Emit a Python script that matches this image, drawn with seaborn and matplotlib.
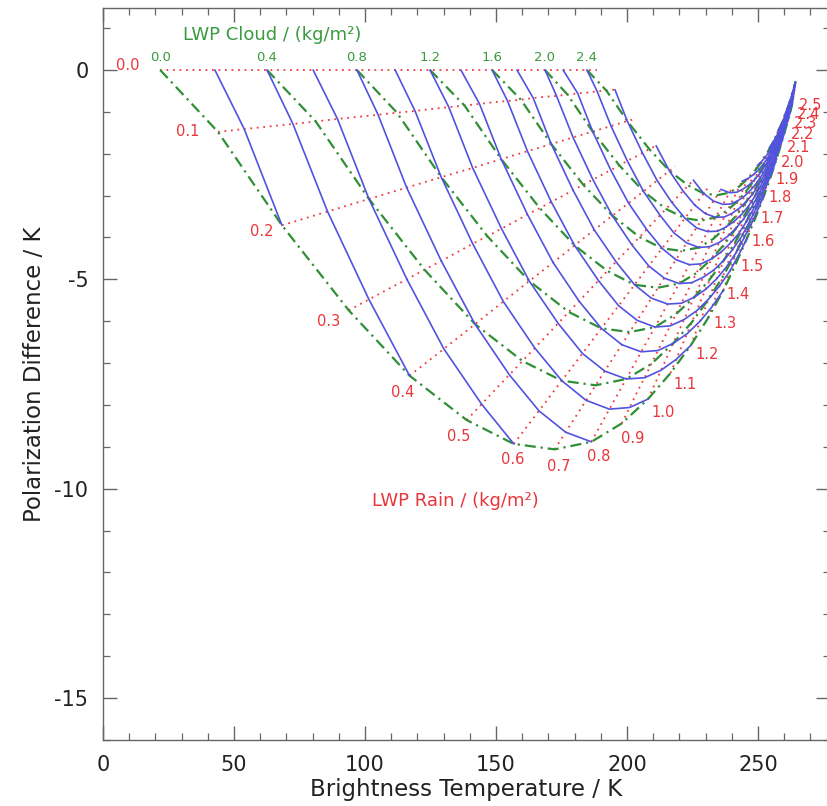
import matplotlib
matplotlib.use("Agg")
import matplotlib.pyplot as plt
import seaborn as sns
import pandas as pd

sns.set_theme(style="white")
plt.rcParams['font.family'] = ['DejaVu Sans']
plt.rcParams['axes.unicode_minus'] = False

# ---------------- data ----------------
cloud_lwp = [0.0, 0.2, 0.4, 0.6, 0.8, 1.0, 1.2, 1.4, 1.6, 1.8, 2.0, 2.2, 2.4, 2.5]
rain_lwp = [0.0, 0.1, 0.2, 0.3, 0.4, 0.5, 0.6, 0.7, 0.8, 0.9, 1.0, 1.1, 1.2,
            1.3, 1.4, 1.5, 1.6, 1.7, 1.8, 1.9, 2.0, 2.1, 2.2, 2.3, 2.4, 2.5]
cloud_labels = ["0.0", "0.4", "0.8", "1.2", "1.6", "2.0", "2.4"]

# brightness temperature [rain row][cloud column]
tb = [
    [21.8, 42.7, 62.6, 80.2, 96.9, 111.5, 124.8, 136.6, 148.5, 158.0, 168.7, 175.6, 184.7, 188.4],
    [43.9, 63.4, 81.2, 97.4, 112.2, 125.7, 138.0, 149.2, 159.5, 168.8, 177.3, 185.0, 192.1, 195.4],
    [68.3, 85.7, 101.5, 115.9, 129.1, 141.1, 152.0, 162.0, 171.1, 179.4, 186.9, 193.9, 200.1, 203.1],
    [93.8, 108.9, 122.7, 135.3, 146.7, 157.2, 166.7, 175.4, 183.3, 190.5, 197.1, 203.1, 208.5, 211.1],
    [117.0, 130.1, 142.0, 152.8, 162.7, 171.8, 180.0, 187.5, 194.4, 200.6, 206.3, 211.5, 216.2, 218.4],
    [138.8, 149.9, 160.1, 169.4, 177.8, 185.5, 192.5, 198.9, 204.8, 210.1, 214.9, 219.4, 223.4, 225.3],
    [156.8, 166.4, 175.1, 183.0, 190.2, 196.8, 202.9, 208.3, 213.4, 217.9, 222.1, 225.9, 229.3, 230.9],
    [172.4, 180.6, 188.0, 194.8, 201.0, 206.7, 211.8, 216.5, 220.8, 224.7, 228.3, 231.5, 234.5, 235.8],
    [186.4, 193.3, 199.7, 205.4, 210.7, 215.5, 219.9, 223.8, 227.5, 230.8, 233.8, 236.6, 239.1, 240.2],
    [198.0, 203.9, 209.3, 214.2, 218.7, 222.8, 226.5, 229.9, 233.0, 235.8, 238.4, 240.8, 242.9, 243.9],
    [208.0, 213.0, 217.6, 221.8, 225.6, 229.1, 232.3, 235.2, 237.8, 240.2, 242.4, 244.4, 246.2, 247.1],
    [216.6, 220.9, 224.8, 228.3, 231.6, 234.5, 237.2, 239.7, 241.9, 243.9, 245.8, 247.5, 249.0, 249.8],
    [224.3, 227.9, 231.2, 234.2, 236.9, 239.4, 241.6, 243.7, 245.6, 247.3, 248.8, 250.3, 251.6, 252.2],
    [231.0, 234.0, 236.7, 239.2, 241.5, 243.6, 245.5, 247.2, 248.8, 250.2, 251.5, 252.7, 253.8, 254.3],
    [236.8, 239.3, 241.6, 243.6, 245.5, 247.2, 248.8, 250.2, 251.5, 252.7, 253.8, 254.8, 255.7, 256.1],
    [241.6, 243.7, 245.5, 247.3, 248.8, 250.3, 251.6, 252.7, 253.8, 254.8, 255.7, 256.5, 257.3, 257.6],
    [245.8, 247.5, 249.0, 250.5, 251.7, 252.9, 254.0, 254.9, 255.8, 256.6, 257.4, 258.1, 258.7, 259.0],
    [249.4, 250.8, 252.0, 253.2, 254.2, 255.2, 256.0, 256.8, 257.6, 258.2, 258.8, 259.4, 259.9, 260.1],
    [252.4, 253.5, 254.5, 255.5, 256.3, 257.1, 257.8, 258.4, 259.0, 259.5, 260.0, 260.4, 260.8, 261.0],
    [254.9, 255.8, 256.6, 257.3, 258.0, 258.6, 259.2, 259.7, 260.2, 260.6, 261.0, 261.3, 261.7, 261.8],
    [257.0, 257.7, 258.4, 258.9, 259.5, 260.0, 260.4, 260.8, 261.2, 261.5, 261.8, 262.1, 262.4, 262.5],
    [258.7, 259.3, 259.8, 260.2, 260.6, 261.0, 261.4, 261.7, 262.0, 262.3, 262.5, 262.7, 262.9, 263.0],
    [260.1, 260.5, 260.9, 261.3, 261.6, 261.9, 262.2, 262.4, 262.7, 262.9, 263.1, 263.2, 263.4, 263.5],
    [261.3, 261.6, 261.9, 262.2, 262.4, 262.7, 262.9, 263.1, 263.2, 263.4, 263.5, 263.7, 263.8, 263.8],
    [262.3, 262.5, 262.8, 263.0, 263.1, 263.3, 263.4, 263.6, 263.7, 263.8, 263.9, 264.0, 264.1, 264.2],
    [263.1, 263.3, 263.4, 263.6, 263.7, 263.8, 263.9, 264.0, 264.1, 264.2, 264.2, 264.3, 264.4, 264.4],
]

# polarization difference [rain row][cloud column]
pdiff = [
    [0.0] * 14,
    [-1.48, -1.35, -1.23, -1.12, -1.02, -0.93, -0.85, -0.77, -0.71, -0.64, -0.59, -0.54, -0.49, -0.47],
    [-3.71, -3.38, -3.08, -2.81, -2.56, -2.34, -2.13, -1.94, -1.77, -1.61, -1.47, -1.34, -1.22, -1.17],
    [-5.74, -5.23, -4.77, -4.35, -3.97, -3.62, -3.30, -3.01, -2.74, -2.50, -2.28, -2.08, -1.89, -1.81],
    [-7.30, -6.66, -6.07, -5.53, -5.04, -4.60, -4.19, -3.82, -3.48, -3.18, -2.90, -2.64, -2.41, -2.30],
    [-8.36, -7.62, -6.95, -6.34, -5.78, -5.27, -4.80, -4.38, -3.99, -3.64, -3.32, -3.02, -2.76, -2.63],
    [-8.93, -8.14, -7.42, -6.77, -6.17, -5.63, -5.13, -4.68, -4.26, -3.89, -3.54, -3.23, -2.95, -2.81],
    [-9.06, -8.26, -7.53, -6.87, -6.26, -5.71, -5.20, -4.74, -4.32, -3.94, -3.60, -3.28, -2.99, -2.85],
    [-8.88, -8.10, -7.38, -6.73, -6.14, -5.59, -5.10, -4.65, -4.24, -3.86, -3.52, -3.21, -2.93, -2.80],
    [-8.44, -7.69, -7.02, -6.40, -5.83, -5.32, -4.85, -4.42, -4.03, -3.67, -3.35, -3.05, -2.78, -2.66],
    [-7.86, -7.17, -6.53, -5.96, -5.43, -4.95, -4.51, -4.12, -3.75, -3.42, -3.12, -2.84, -2.59, -2.48],
    [-7.24, -6.60, -6.02, -5.49, -5.00, -4.56, -4.16, -3.79, -3.46, -3.15, -2.87, -2.62, -2.39, -2.28],
    [-6.58, -6.00, -5.47, -4.99, -4.55, -4.14, -3.78, -3.45, -3.14, -2.86, -2.61, -2.38, -2.17, -2.07],
    [-5.92, -5.40, -4.92, -4.49, -4.09, -3.73, -3.40, -3.10, -2.83, -2.58, -2.35, -2.14, -1.95, -1.86],
    [-5.26, -4.80, -4.37, -3.99, -3.63, -3.31, -3.02, -2.75, -2.51, -2.29, -2.09, -1.90, -1.73, -1.66],
    [-4.62, -4.21, -3.84, -3.50, -3.19, -2.91, -2.65, -2.42, -2.21, -2.01, -1.83, -1.67, -1.52, -1.45],
    [-4.02, -3.67, -3.34, -3.05, -2.78, -2.53, -2.31, -2.10, -1.92, -1.75, -1.60, -1.45, -1.33, -1.27],
    [-3.47, -3.16, -2.88, -2.63, -2.40, -2.19, -1.99, -1.82, -1.66, -1.51, -1.38, -1.26, -1.14, -1.09],
    [-2.98, -2.72, -2.48, -2.26, -2.06, -1.88, -1.71, -1.56, -1.42, -1.30, -1.18, -1.08, -0.98, -0.94],
    [-2.54, -2.32, -2.11, -1.92, -1.75, -1.60, -1.46, -1.33, -1.21, -1.11, -1.01, -0.92, -0.84, -0.80],
    [-2.14, -1.95, -1.78, -1.62, -1.48, -1.35, -1.23, -1.12, -1.02, -0.93, -0.85, -0.77, -0.71, -0.67],
    [-1.80, -1.64, -1.50, -1.36, -1.24, -1.13, -1.03, -0.94, -0.86, -0.78, -0.71, -0.65, -0.59, -0.57],
    [-1.50, -1.37, -1.25, -1.14, -1.04, -0.94, -0.86, -0.79, -0.72, -0.65, -0.60, -0.54, -0.49, -0.47],
    [-1.24, -1.13, -1.03, -0.94, -0.86, -0.78, -0.71, -0.65, -0.59, -0.54, -0.49, -0.45, -0.41, -0.39],
    [-1.01, -0.92, -0.84, -0.77, -0.70, -0.64, -0.58, -0.53, -0.48, -0.44, -0.40, -0.37, -0.33, -0.32],
    [-0.81, -0.74, -0.67, -0.61, -0.56, -0.51, -0.47, -0.42, -0.39, -0.35, -0.32, -0.29, -0.27, -0.26],
]

# intermediate grid nodes: odd-tenth cloud and odd-tenth rain
cloud_lwp_mid = [0.1, 0.3, 0.5, 0.7, 0.9, 1.1, 1.3, 1.5, 1.7, 1.9, 2.1, 2.3]
rain_lwp_mid = [0.1, 0.3, 0.5, 0.7, 0.9, 1.1, 1.3, 1.5, 1.7, 1.9, 2.1, 2.3, 2.5]
tb_mid = [
    [53.9, 72.5, 89.5, 105.0, 119.1, 132.0, 143.7, 154.4, 164.2, 173.1, 181.2, 188.6],
    [101.5, 116.0, 129.1, 141.1, 152.1, 162.0, 171.1, 179.4, 187.0, 193.8, 200.1, 205.9],
    [144.5, 155.1, 164.8, 173.7, 181.7, 189.1, 195.8, 201.9, 207.5, 212.6, 217.2, 221.4],
    [176.6, 184.4, 191.5, 198.0, 203.9, 209.3, 214.2, 218.7, 222.8, 226.5, 229.9, 233.0],
    [201.0, 206.7, 211.8, 216.5, 220.8, 224.7, 228.3, 231.5, 234.5, 237.2, 239.6, 241.9],
    [218.8, 222.9, 226.6, 230.0, 233.1, 235.9, 238.5, 240.8, 242.9, 244.9, 246.7, 248.3],
    [232.5, 235.4, 238.0, 240.4, 242.6, 244.5, 246.4, 248.0, 249.5, 250.9, 252.1, 253.3],
    [242.7, 244.6, 246.4, 248.1, 249.6, 250.9, 252.2, 253.3, 254.3, 255.3, 256.1, 256.9],
    [250.1, 251.4, 252.6, 253.7, 254.7, 255.6, 256.4, 257.2, 257.9, 258.5, 259.1, 259.6],
    [255.4, 256.2, 257.0, 257.7, 258.3, 258.9, 259.5, 259.9, 260.4, 260.8, 261.2, 261.5],
    [259.0, 259.5, 260.0, 260.4, 260.8, 261.2, 261.5, 261.8, 262.1, 262.4, 262.6, 262.8],
    [261.5, 261.8, 262.1, 262.3, 262.6, 262.8, 263.0, 263.1, 263.3, 263.5, 263.6, 263.7],
    [263.2, 263.3, 263.5, 263.6, 263.7, 263.9, 264.0, 264.0, 264.1, 264.2, 264.3, 264.3],
]
pdiff_mid = [
    [-1.41, -1.29, -1.17, -1.07, -0.98, -0.89, -0.81, -0.74, -0.67, -0.62, -0.56, -0.51],
    [-5.48, -5.00, -4.56, -4.15, -3.79, -3.45, -3.15, -2.87, -2.62, -2.39, -2.17, -1.98],
    [-7.98, -7.28, -6.64, -6.05, -5.52, -5.03, -4.58, -4.18, -3.81, -3.47, -3.17, -2.89],
    [-8.65, -7.89, -7.19, -6.56, -5.98, -5.45, -4.97, -4.53, -4.13, -3.77, -3.43, -3.13],
    [-8.06, -7.35, -6.70, -6.11, -5.57, -5.08, -4.63, -4.22, -3.85, -3.51, -3.20, -2.92],
    [-6.91, -6.30, -5.75, -5.24, -4.78, -4.35, -3.97, -3.62, -3.30, -3.01, -2.74, -2.50],
    [-5.65, -5.15, -4.70, -4.28, -3.91, -3.56, -3.25, -2.96, -2.70, -2.46, -2.24, -2.04],
    [-4.41, -4.02, -3.67, -3.34, -3.05, -2.78, -2.53, -2.31, -2.11, -1.92, -1.75, -1.60],
    [-3.31, -3.02, -2.75, -2.51, -2.29, -2.09, -1.90, -1.74, -1.58, -1.44, -1.31, -1.20],
    [-2.43, -2.21, -2.02, -1.84, -1.68, -1.53, -1.39, -1.27, -1.16, -1.06, -0.96, -0.88],
    [-1.72, -1.57, -1.43, -1.30, -1.19, -1.08, -0.99, -0.90, -0.82, -0.75, -0.68, -0.62],
    [-1.18, -1.08, -0.98, -0.90, -0.82, -0.75, -0.68, -0.62, -0.57, -0.52, -0.47, -0.43],
    [-0.77, -0.71, -0.64, -0.59, -0.53, -0.49, -0.44, -0.41, -0.37, -0.34, -0.31, -0.28],
]

# ---------------- styles ----------------
RED = "#f0393c"
GREEN = "#2f8f35"
BLUE = "#5252e0"
RED_TXT = "#e8363a"
GREEN_TXT = "#3a9a3e"

# all grid nodes keyed by (cloud, rain) in tenths of kg/m2
node = {}
for j, r in enumerate(rain_lwp):
    for k, c in enumerate(cloud_lwp):
        node[(round(c * 10), round(r * 10))] = (tb[j][k], pdiff[j][k])
for j, r in enumerate(rain_lwp_mid):
    for k, c in enumerate(cloud_lwp_mid):
        node[(round(c * 10), round(r * 10))] = (tb_mid[j][k], pdiff_mid[j][k])
c_all = sorted({key[0] for key in node})

# constant rain lines (red dotted)
red_rows = []
for r in rain_lwp:
    r10 = round(r * 10)
    for c10 in c_all:
        if (c10, r10) in node:
            x, y = node[(c10, r10)]
            red_rows.append({"id": r10, "tb": x, "pd": y})
red_df = pd.DataFrame(red_rows)

# constant cloud lines (green dash-dot), every 0.4 kg/m2
green_rows = []
for c in cloud_lwp:
    c10 = round(c * 10)
    if c10 % 4 == 0:
        for r in rain_lwp:
            x, y = node[(c10, round(r * 10))]
            green_rows.append({"id": c10, "tb": x, "pd": y})
green_df = pd.DataFrame(green_rows)

# constant total LWP lines (blue solid): cloud + rain = 0.2, 0.4, ...
blue_rows = []
for tot in range(2, 51, 2):
    pts = [node[(c10, tot - c10)] for c10 in sorted(c_all, reverse=True)
           if (c10, tot - c10) in node]
    if len(pts) > 1:
        for x, y in pts:
            blue_rows.append({"id": tot, "tb": x, "pd": y})
blue_df = pd.DataFrame(blue_rows)

fig = plt.figure(figsize=(8.27, 8.06), dpi=100)
ax = fig.add_axes([0.12455, 0.0819, 0.8785, 0.9082])

sns.lineplot(data=red_df, x="tb", y="pd", units="id", estimator=None, sort=False,
             ax=ax, color=RED, lw=1.3, linestyle=(0, (1, 2.6)), zorder=2)
sns.lineplot(data=green_df, x="tb", y="pd", units="id", estimator=None, sort=False,
             ax=ax, color=GREEN, lw=1.6, linestyle=(0, (5, 2.2, 1, 2.2)), zorder=3)
sns.lineplot(data=blue_df, x="tb", y="pd", units="id", estimator=None, sort=False,
             ax=ax, color=BLUE, lw=1.2, zorder=4)

ax.set_xlim(0, 277.3)
ax.set_ylim(-16, 1.48)
ax.set_xticks([0, 50, 100, 150, 200, 250])
ax.set_xticks(range(0, 280, 10), minor=True)
ax.set_yticks([0, -5, -10, -15])
ax.set_yticks(range(-16, 2), minor=True)
ax.tick_params(which="both", direction="in", top=True, right=True, bottom=True, left=True,
               labelsize=15, labelcolor="#222222", color="#666666")
ax.tick_params(which="major", length=10, width=1.0)
ax.tick_params(which="minor", length=5, width=0.9)
ax.tick_params(axis="y", pad=10.5)
ax.tick_params(axis="x", pad=11)
for s in ax.spines.values():
    s.set_color("#666666")
    s.set_linewidth(1.0)
ax.set_xlabel("Brightness Temperature / K", fontsize=16.5, labelpad=2, color="#222222")
ax.set_ylabel("Polarization Difference / K", fontsize=16.5, labelpad=6, color="#222222")

ax.text(30.5, 0.84, "LWP Cloud / (kg/m²)", color=GREEN_TXT, fontsize=13,
        ha="left", va="center")
ax.text(102.7, -10.3, "LWP Rain / (kg/m²)", color=RED_TXT, fontsize=13,
        ha="left", va="center")

# cloud labels along the top
for k, c in enumerate(cloud_lwp):
    lab = f"{c:.1f}"
    if lab in cloud_labels:
        ax.text(tb[0][k], 0.29, lab, color=GREEN_TXT, fontsize=9.5, ha="center", va="center")

# rain labels along the cloud-free curve (offsets in pixels: right, down)
offsets = [(-32, -4), (-30, 0), (-20, 6), (-20, 11), (-7, 17), (-8, 16), (-1, 16),
           (4, 17), (7, 15), (11, 15), (15, 13), (15, 11), (16, 9), (17, 6), (15, 4),
           (16, 3), (16, 3), (16, 3), (16, 3), (16, 3), (16, 3),
           (18, 2), (18, 2), (18, 2), (18, 2), (18, 2)]
for j, r in enumerate(rain_lwp):
    dx, dy = offsets[j]
    ax.annotate(f"{r:.1f}", (tb[j][0], pdiff[j][0]), xytext=(dx, -dy),
                textcoords="offset pixels", color=RED_TXT, fontsize=10.5,
                ha="center", va="center", zorder=6)

fig.savefig("out.png", dpi=100)
